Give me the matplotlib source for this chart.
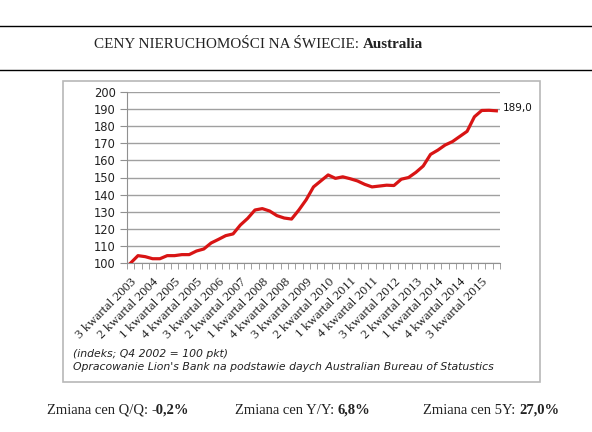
import matplotlib
matplotlib.use("Agg")
import matplotlib.pyplot as plt
from matplotlib.patches import Rectangle
from matplotlib.lines import Line2D

# ---- data ----
index_values = [100.0, 104.3, 103.7, 102.5, 102.5, 104.3, 104.3, 104.9, 104.9, 107.0,
                108.2, 111.7, 113.8, 116.0, 117.0, 122.2, 126.1, 131.0, 131.8, 130.4,
                127.7, 126.3, 125.7, 131.0, 137.0, 144.5, 148.0, 151.5, 149.5, 150.4,
                149.3, 148.0, 146.0, 144.5, 145.0, 145.5, 145.3, 149.0, 150.0, 153.0,
                156.7, 163.5, 166.0, 169.0, 171.0, 174.0, 177.0, 185.5, 189.2, 189.3,
                189.0]
tick_labels = ["3 kwartal 2003", "2 kwartal 2004", "1 kwartal 2005", "4 kwartal 2005",
               "3 kwartal 2006", "2 kwartal 2007", "1 kwartal 2008", "4 kwartal 2008",
               "3 kwartal 2009", "2 kwartal 2010", "1 kwartal 2011", "4 kwartal 2011",
               "3 kwartal 2012", "2 kwartal 2013", "1 kwartal 2014", "4 kwartal 2014",
               "3 kwartal 2015"]
label_step = 3
y_ticks = [100, 110, 120, 130, 140, 150, 160, 170, 180, 190, 200]
last_label = "189,0"
title_plain = "CENY NIERUCHOMOŚCI NA ŚWIECIE: "
title_bold = "Australia"
note_lines = ["(indeks; Q4 2002 = 100 pkt)",
              "Opracowanie Lion's Bank na podstawie daych Australian Bureau of Statustics"]
footer = [("Zmiana cen Q/Q: ", "-0,2%"), ("Zmiana cen Y/Y: ", "6,8%"), ("Zmiana cen 5Y: ", "27,0%")]

W, H = 592, 432
fig = plt.figure(figsize=(W / 100, H / 100), dpi=100)
fig.patch.set_facecolor("white")

def fx(px):
    return px / W

def fy(py):
    return 1 - py / H

# header lines
fig.add_artist(Line2D([0, 1], [fy(26), fy(26)], color="black", lw=1.0))
fig.add_artist(Line2D([0, 1], [fy(70), fy(70)], color="black", lw=1.0))

# title
serif = "Liberation Serif"
t1 = fig.text(fx(94), fy(45), title_plain, fontsize=10.9, family=serif, va="center", ha="left", color="#222222")
fig.canvas.draw()
bb = t1.get_window_extent()
fig.text(bb.x1 / W, fy(45), title_bold, fontsize=10.9, family=serif, weight="bold", va="center", ha="left", color="#222222")

# chart box
fig.add_artist(Rectangle((fx(63), fy(382)), fx(540) - fx(63), fy(81) - fy(382),
                         transform=fig.transFigure, fill=False, edgecolor="#b8b8b8", lw=1.2))

ax = fig.add_axes([fx(127), fy(263), fx(500) - fx(127), fy(92) - fy(263)])
n = len(index_values)
xs = list(range(n))
ax.plot(xs, index_values, color="#d81414", lw=2.3, solid_joinstyle="round", zorder=3)
ax.set_xlim(-0.5, n - 0.5)
ax.set_ylim(100, 200)
ax.set_yticks(y_ticks)
ax.set_yticklabels([str(v) for v in y_ticks], fontsize=8.3, family="DejaVu Sans", color="#222222")
ax.grid(axis="y", color="#a0a0a0", lw=1.0)
ax.set_axisbelow(True)

# category boundary ticks
ax.set_xticks([i - 0.5 for i in range(n + 1)], minor=True)
ax.set_xticks(xs[::label_step])
ax.set_xticklabels(tick_labels, rotation=45, ha="right", va="top", rotation_mode="anchor",
                   fontsize=9.6, family=serif, color="#222222")
ax.tick_params(axis="x", which="major", length=0, pad=9)
ax.tick_params(axis="x", which="minor", length=4, color="#909090", direction="out")
ax.tick_params(axis="y", length=5, color="#909090", pad=3)
for s in ["top", "right"]:
    ax.spines[s].set_visible(False)
ax.spines["left"].set_color("#909090")
ax.spines["bottom"].set_color("#909090")

ax.annotate(last_label, xy=(n - 1, index_values[-1]), xytext=(5, 2), textcoords="offset points",
            fontsize=7.5, family="DejaVu Sans", va="center", ha="left", color="#111111")

# notes
fig.text(fx(73), fy(354), note_lines[0], fontsize=7.8, family="DejaVu Sans", style="italic",
         va="center", ha="left", color="#222222")
fig.text(fx(73), fy(367), note_lines[1], fontsize=7.8, family="DejaVu Sans", style="italic",
         va="center", ha="left", color="#222222")

# footer
for (plain, bold), x0 in zip(footer, [47, 235, 423]):
    t = fig.text(fx(x0), fy(410), plain, fontsize=10.5, family=serif, va="center", ha="left", color="#222222")
    fig.canvas.draw()
    b = t.get_window_extent()
    fig.text(b.x1 / W, fy(410), bold, fontsize=10.5, family=serif, weight="bold", va="center", ha="left", color="#222222")

fig.savefig("out.png", dpi=100)
